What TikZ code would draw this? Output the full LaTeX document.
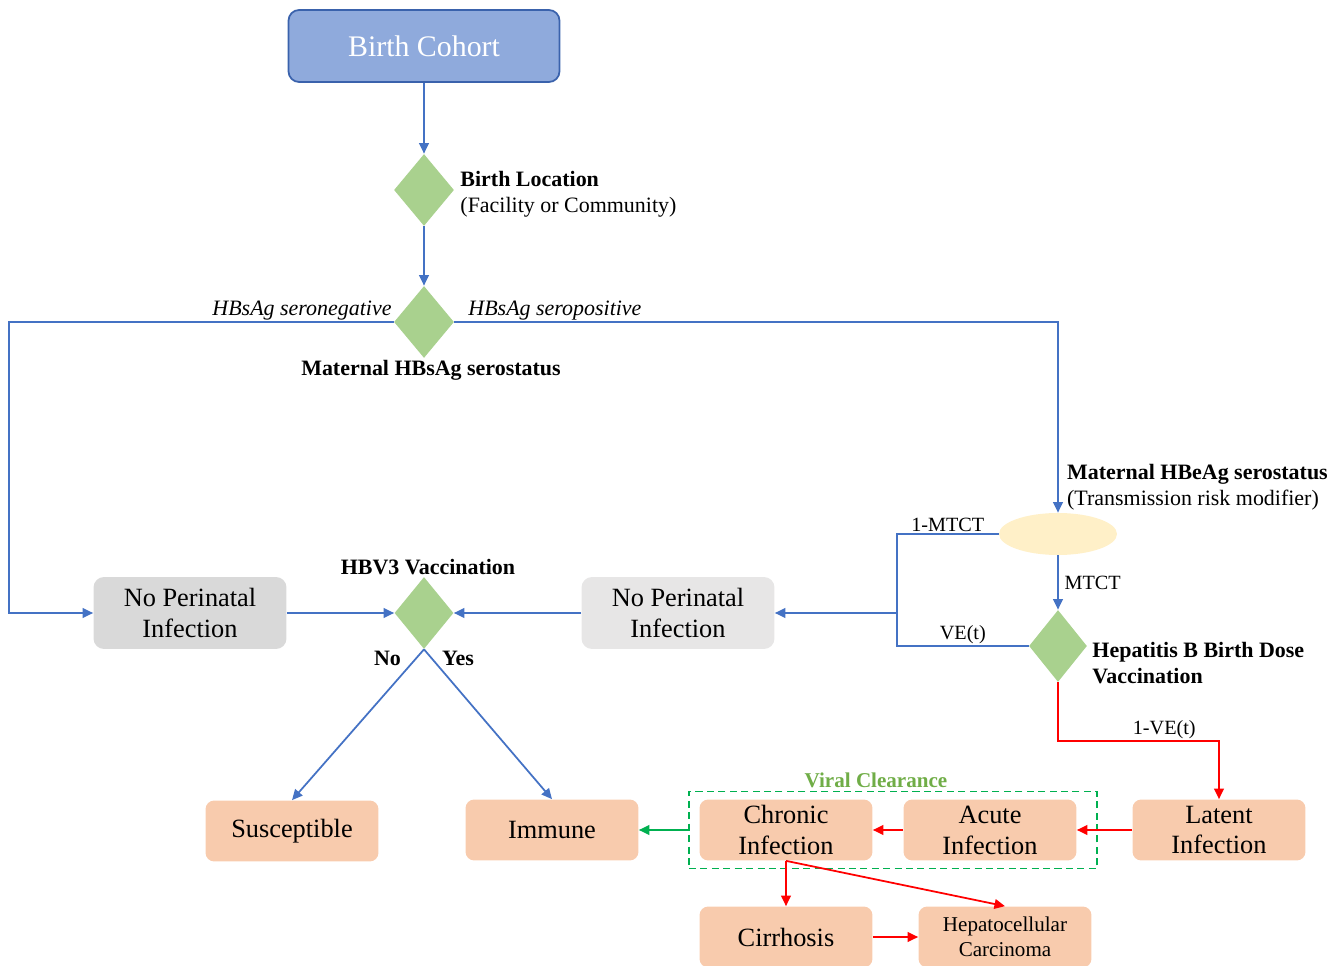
\documentclass[tikz,border=0pt]{standalone}
\usepackage{fontspec}
\setmainfont{Liberation Serif}
\usetikzlibrary{shapes.geometric,arrows.meta}

\definecolor{cohortfill}{HTML}{8FAADC}
\definecolor{cohortline}{HTML}{3A62AC}
\definecolor{flowblue}{HTML}{4472C4}
\definecolor{choicegreen}{HTML}{A9D18E}
\definecolor{peach}{HTML}{F8CBAD}
\definecolor{greyone}{HTML}{D9D9D9}
\definecolor{greytwo}{HTML}{E7E6E6}
\definecolor{cream}{HTML}{FFF0C8}
\definecolor{clearline}{HTML}{00B050}
\definecolor{cleartext}{HTML}{70AD47}

\tikzset{
  box/.style={rectangle, rounded corners=5pt, align=center, inner sep=1pt,
    minimum width=3.46cm, minimum height=1.22cm, font=\fontsize{15}{17.6}\selectfont},
  peachbox/.style={box, fill=peach},
  greybox/.style={box, rounded corners=6pt, minimum width=3.86cm, minimum height=1.44cm},
  choice/.style={diamond, fill=choicegreen, inner sep=0pt, minimum width=1.2cm, minimum height=1.44cm},
  lbl/.style={inner sep=1pt, text=black, font=\fontsize{12.5}{14.8}\selectfont},
  blbl/.style={lbl, font=\fontsize{12.5}{14.8}\selectfont\bfseries},
  edgelbl/.style={lbl, font=\fontsize{11.5}{13}\selectfont},
  flow/.style={draw=flowblue, line width=1pt, -{Triangle[length=6pt,width=5.5pt]}},
  redflow/.style={flow, draw=red},
  greenflow/.style={flow, draw=clearline}
}

\begin{document}
\begin{tikzpicture}[x=0.02cm,y=-0.02cm]
\useasboundingbox (0,0) rectangle (1343,966);

%Top of the tree
\node[box, fill=cohortfill, draw=cohortline, line width=1pt, rounded corners=6pt,
  minimum width=5.42cm, minimum height=1.44cm, text=white,
  font=\fontsize{17}{20}\selectfont] (cohort) at (424,46) {Birth Cohort};
\node[choice] (loc) at (424,190) {};
\node[choice] (hbsag) at (424,322) {};

%Maternal HBeAg branch
\node[ellipse, fill=cream, minimum width=2.36cm, minimum height=0.84cm] (hbeag) at (1058,534) {};
\node[choice, minimum width=1.16cm] (bd) at (1058,646) {};
\coordinate (split) at (897,613);
\coordinate (bdturn) at (1058,741);

%Boxes
\node[greybox, fill=greyone] (npone) at (190,613) {No Perinatal\\Infection};
\node[greybox, fill=greytwo] (nptwo) at (678,613) {No Perinatal\\Infection};
\node[choice, minimum width=1.18cm] (hbv) at (424,613) {};
\node[peachbox] (susc) at (292,831) {Susceptible};
\node[peachbox] (immune) at (552,830) {Immune};
\node[peachbox] (chronic) at (786,830) {Chronic\\Infection};
\node[peachbox] (acute) at (990,830) {Acute\\Infection};
\node[peachbox] (latent) at (1219,830) {Latent\\Infection};
\node[peachbox] (cirr) at (786,937) {Cirrhosis};
\node[peachbox, font=\fontsize{12}{14}\selectfont] (hcc) at (1005,937) {Hepatocellular\\Carcinoma};
\node[draw=clearline, dash pattern=on 4pt off 2.5pt, line width=0.9pt, minimum width=8.16cm, minimum height=1.54cm,
  label={[text=cleartext, font=\fontsize{12}{14}\selectfont\bfseries, inner sep=1.5pt, xshift=-0.34cm]above:Viral Clearance}]
  (clearbox) at (893,830) {};

%Texts beside the diamonds
\node[lbl, anchor=west, align=left, xshift=0.08cm, yshift=-0.08cm] (loctext) at (loc.east)
  {\textbf{Birth Location}\\(Facility or Community)};
\node[blbl, anchor=north, xshift=0.14cm] (hbsagtext) at (hbsag.south) {Maternal HBsAg serostatus};
\node[lbl, anchor=south east, font=\fontsize{12.5}{15}\selectfont\itshape] (negtext) at (hbsag.west) {HBsAg seronegative};
\node[lbl, anchor=south west, xshift=0.24cm, font=\fontsize{12.5}{15}\selectfont\itshape] (postext) at (hbsag.east) {HBsAg seropositive};
\node[lbl, anchor=south west, align=left, xshift=0.14cm] (hbeagtext) at (hbeag.north)
  {\textbf{Maternal HBeAg serostatus}\\(Transmission risk modifier)};
\node[blbl, anchor=north west, align=left, xshift=0.06cm, yshift=0.12cm] (bdtext) at (bd.east)
  {Hepatitis B Birth Dose\\Vaccination};
\node[blbl, anchor=south, xshift=0.08cm] (hbvtext) at (hbv.north) {HBV3 Vaccination};
\node[blbl, anchor=north east, xshift=-0.42cm] (notext) at (hbv.south) {No};
\node[blbl, anchor=north west, xshift=0.32cm] (yestext) at (hbv.south) {Yes};

%Arrows & Labels
\draw[flow] (cohort) -- (loc);
\draw[flow] (loc) -- (hbsag);
\draw[flow] (hbsag.west) -- (9,322) |- (npone.west);
\draw[flow] (hbsag.east) -| (hbeag.north);
\draw[draw=flowblue, line width=1pt] (hbeag.west)
  -- node[edgelbl, above] {1-MTCT} (hbeag.west -| split)
  -- (split) -- (split |- bd.west)
  -- node[edgelbl, above] {VE(t)} (bd.west);
\draw[flow] (split) -- (nptwo.east);
\draw[flow] (hbeag) -- node[edgelbl, right, xshift=0.08cm] {MTCT} (bd);
\draw[flow] (npone) -- (hbv);
\draw[flow] (nptwo) -- (hbv);
\draw[flow] (hbv.south) -- (susc.north);
\draw[flow] (hbv.south) -- (immune.north);
\draw[redflow] (bd.south) -- (bdturn)
  -- node[edgelbl, above, pos=0.66] {1-VE(t)} (bdturn -| latent.north)
  -- (latent.north);
\draw[redflow] (latent) -- (acute);
\draw[redflow] (acute) -- (chronic);
\draw[redflow] (chronic) -- (cirr);
\draw[redflow] (chronic.south) -- (hcc.north);
\draw[redflow] (cirr) -- (hcc);
\draw[greenflow] (clearbox.west) -- (immune.east);
\end{tikzpicture}
\end{document}
